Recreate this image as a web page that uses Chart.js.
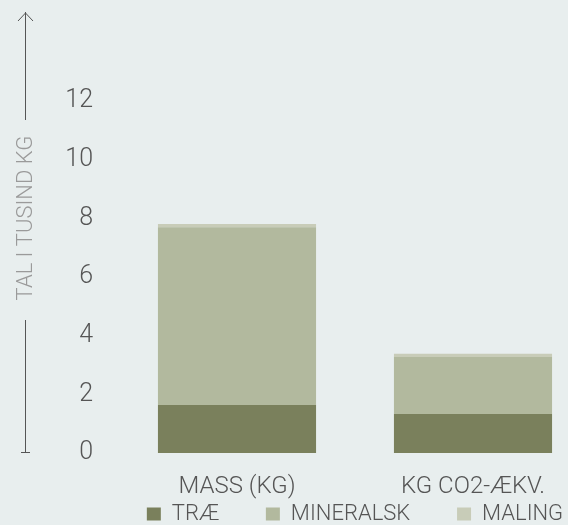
<!DOCTYPE html>
<html>
<head>
<meta charset="utf-8">
<script src="https://cdn.jsdelivr.net/npm/chart.js@4/dist/chart.umd.min.js"></script>
<style>
  html, body { margin: 0; padding: 0; background: #e8eeee; overflow: hidden; }
  #wrap { width: 568px; height: 525px; overflow: hidden; position: relative; }
  #wrap canvas { position: absolute; left: 0; top: 0; }
</style>
</head>
<body>
<div id="wrap"><canvas id="chart" width="600" height="535"></canvas></div>
<script>
const categories = ["MASS (KG)", "KG CO2-ÆKV."];
const traeValues = [1.64, 1.33];
const mineralskValues = [6.06, 1.94];
const malingValues = [0.11, 0.11];
const tickValues = [0, 2, 4, 6, 8, 10, 12];
const axisTitle = "TAL I TUSIND KG";

const FONT = "Roboto, 'Open Sans', sans-serif";

// arrow + title on the left side of the y axis
const axisDecoration = {
  id: "axisDecoration",
  beforeDraw(chart) {
    const c = chart.ctx;
    c.save();
    c.fillStyle = "#e8eeee";
    c.fillRect(0, 0, chart.width, chart.height);
    c.restore();
  },
  afterDraw(chart) {
    const c = chart.ctx;
    const y = chart.scales.y;
    const x0 = 25;
    const top = chart.chartArea.top - 1;
    const bottom = y.getPixelForValue(0) - 1;
    const mid = 218;
    c.save();
    c.strokeStyle = "#555";
    c.lineWidth = 1;
    c.beginPath();
    c.moveTo(x0 + 0.5, top);
    c.lineTo(x0 + 0.5, mid - 98);
    c.moveTo(x0 + 0.5, mid + 102);
    c.lineTo(x0 + 0.5, bottom);
    c.moveTo(x0 - 4, bottom + 0.5);
    c.lineTo(x0 + 5, bottom + 0.5);
    c.moveTo(x0 - 7, top + 9);
    c.lineTo(x0 + 0.5, top + 1);
    c.lineTo(x0 + 8, top + 9);
    c.stroke();
    c.translate(x0, mid);
    c.rotate(-Math.PI / 2);
    c.font = "300 22px " + FONT;
    c.fillStyle = "#9a9a9a";
    c.textAlign = "center";
    c.textBaseline = "middle";
    c.fillText(axisTitle, 0, 1);
    c.restore();
  },
};

new Chart(document.getElementById("chart"), {
  type: "bar",
  data: {
    labels: categories,
    datasets: [
      { label: "TRÆ", data: traeValues, backgroundColor: "#7a805c" },
      { label: "MINERALSK", data: mineralskValues, backgroundColor: "#b2b99e" },
      { label: "MALING", data: malingValues, backgroundColor: "#c8ccb8" },
    ],
  },
  options: {
    responsive: false,
    animation: false,
    layout: { padding: { left: 0, right: 9, top: 13, bottom: 0 } },
    datasets: {
      bar: { barPercentage: 0.67, categoryPercentage: 1, borderWidth: 0 },
    },
    scales: {
      x: {
        stacked: true,
        grid: { display: false, drawTicks: false },
        border: { display: false },
        afterFit(scale) {
          scale.height = 46;
        },
        ticks: {
          color: "#555",
          font: { family: FONT, size: 24, weight: 300 },
          padding: 20,
        },
      },
      y: {
        stacked: true,
        min: 0,
        max: 15,
        grid: { display: false, drawTicks: false },
        border: { display: false },
        afterFit(scale) {
          scale.width = 119;
          scale.paddingTop = 0;
          scale.paddingBottom = 0;
        },
        afterBuildTicks(scale) {
          scale.ticks = tickValues.map((v) => ({ value: v }));
        },
        ticks: {
          color: "#555",
          font: { family: FONT, size: 25, weight: 300 },
          padding: 26,
        },
      },
    },
    plugins: {
      legend: {
        position: "bottom",
        fullSize: false,
        labels: {
          color: "#555",
          font: { family: FONT, size: 22, weight: 300 },
          boxWidth: 14,
          boxHeight: 13,
          padding: 4,
          // wide gaps between items, as in the original
          generateLabels(chart) {
            const items = Chart.defaults.plugins.legend.labels.generateLabels(chart);
            items.forEach((item, i) => {
              if (i < items.length - 1) item.text = item.text + "        ";
              item.lineWidth = 0;
            });
            return items;
          },
        },
      },
      tooltip: { enabled: false },
    },
  },
  plugins: [axisDecoration],
});
</script>
</body>
</html>
